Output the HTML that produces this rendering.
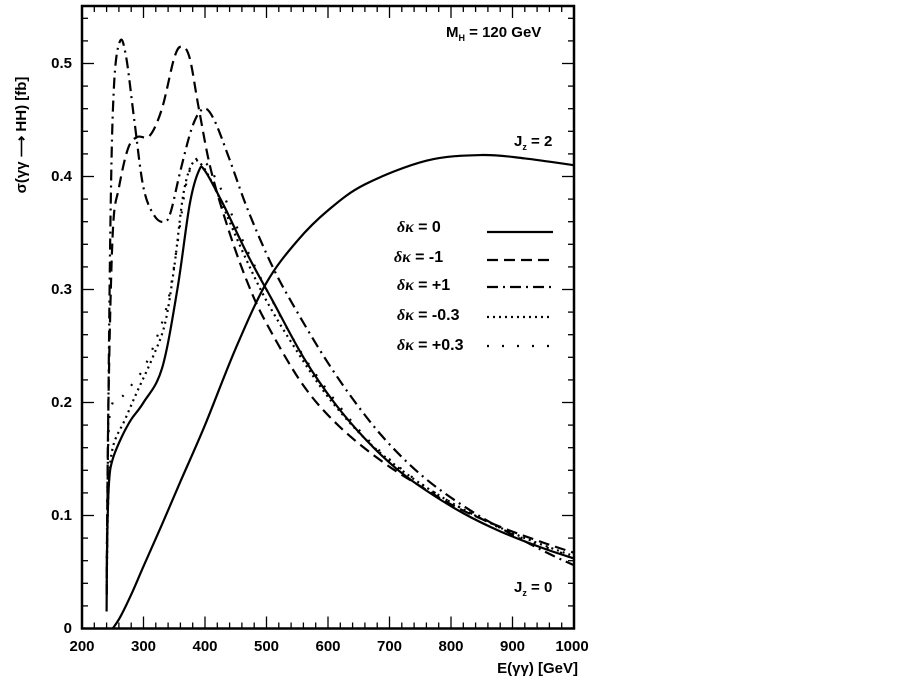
<!DOCTYPE html>
<html><head><meta charset="utf-8"><style>
html,body{margin:0;padding:0;background:#fff;}
svg{display:block;font-family:"Liberation Sans",Arial,sans-serif;}
</style></head><body>
<svg id="s" width="903" height="681" viewBox="0 0 903 681" xmlns="http://www.w3.org/2000/svg">
<g id="ticks" stroke="#000" stroke-width="1.3"></g>
<rect x="82" y="6" width="492" height="622.5" fill="none" stroke="#000" stroke-width="2.5"/>
<g id="curves" fill="none" stroke="#000" stroke-width="2.2"></g>
<g font-size="15" fill="#000" font-weight="bold" style="font-weight:600">
<text x="72" y="633" text-anchor="end">0</text>
<text x="72" y="520" text-anchor="end">0.1</text>
<text x="72" y="407" text-anchor="end">0.2</text>
<text x="72" y="294" text-anchor="end">0.3</text>
<text x="72" y="181" text-anchor="end">0.4</text>
<text x="72" y="68" text-anchor="end">0.5</text>
<g text-anchor="middle">
<text x="82" y="651">200</text><text x="143.5" y="651">300</text><text x="205" y="651">400</text><text x="266.5" y="651">500</text><text x="328" y="651">600</text><text x="389.5" y="651">700</text><text x="451" y="651">800</text><text x="512.5" y="651">900</text><text x="572" y="651">1000</text>
</g>
<text x="578" y="673" text-anchor="end">E(γγ) [GeV]</text>
<text transform="translate(26,135) rotate(-90)" text-anchor="middle">σ(γγ ⟶ HH) [fb]</text>
<text x="446" y="37">M<tspan font-size="9" dy="4">H</tspan><tspan dy="-4"> = 120 GeV</tspan></text>
<text x="514" y="146">J<tspan font-size="9" dy="4">z</tspan><tspan dy="-4"> = 2</tspan></text>
<text x="514" y="592">J<tspan font-size="9" dy="4">z</tspan><tspan dy="-4"> = 0</tspan></text>
<g font-size="16">
<text x="397" y="232"><tspan font-family="Liberation Serif" font-style="italic">δκ</tspan> = 0</text>
<text x="394" y="262"><tspan font-family="Liberation Serif" font-style="italic">δκ</tspan> = -1</text>
<text x="397" y="290"><tspan font-family="Liberation Serif" font-style="italic">δκ</tspan> = +1</text>
<text x="397" y="320"><tspan font-family="Liberation Serif" font-style="italic">δκ</tspan> = -0.3</text>
<text x="397" y="350"><tspan font-family="Liberation Serif" font-style="italic">δκ</tspan> = +0.3</text>
</g>
</g>
<g stroke="#000" stroke-width="2.2">
<line x1="487" y1="232" x2="553" y2="232"/>
<line x1="487" y1="260" x2="553" y2="260" stroke-dasharray="11,6"/>
<line x1="487" y1="287" x2="553" y2="287" stroke-dasharray="11,5,2,5"/>
<line x1="487" y1="317" x2="553" y2="317" stroke-dasharray="2,4"/>
<line x1="487" y1="346" x2="553" y2="346" stroke-dasharray="2,13"/>
</g>
</svg>
<script>
var X=e=>82+(e-200)*0.615, Y=s=>628.5-s*1130;
var t='';
for(var e=200;e<=1000;e+=20){var x=X(e),L=(e%100==0)?12:6;t+=`<line x1="${x}" y1="628.5" x2="${x}" y2="${628.5-L}"/><line x1="${x}" y1="6" x2="${x}" y2="${6+L}"/>`;}
for(var i=0;i<=27;i++){var s=i*0.02,y=Y(s),L=(i%5==0)?12:6;t+=`<line x1="82" y1="${y}" x2="${82+L}" y2="${y}"/><line x1="574" y1="${y}" x2="${574-L}" y2="${y}"/>`;}
document.getElementById('ticks').innerHTML=t;
function path(pts){var p=pts.map(a=>[X(a[0]),Y(a[1])]);var d='M'+p[0][0]+','+p[0][1];
for(var i=0;i<p.length-1;i++){var p0=p[i-1]||p[i],p1=p[i],p2=p[i+1],p3=p[i+2]||p2;
var c1=[p1[0]+(p2[0]-p0[0])/6,p1[1]+(p2[1]-p0[1])/6],c2=[p2[0]-(p3[0]-p1[0])/6,p2[1]-(p3[1]-p1[1])/6];
d+=`C${c1[0]},${c1[1]} ${c2[0]},${c2[1]} ${p2[0]},${p2[1]}`;}return d;}
var C=[
[[[240,0.015],[241,0.08],[244,0.13],[250,0.15],[265,0.17],[280,0.185],[300,0.2],[330,0.23],[355,0.3],[375,0.375],[390,0.405],[400,0.405],[430,0.375],[470,0.33],[510,0.29],[560,0.24],[610,0.2],[660,0.168],[710,0.142],[760,0.122],[820,0.102],[880,0.086],[950,0.071],[1000,0.062]],''],
[[[240,0.03],[243,0.2],[250,0.35],[260,0.39],[275,0.425],[290,0.435],[310,0.436],[330,0.46],[350,0.505],[362,0.515],[375,0.505],[390,0.46],[410,0.405],[440,0.35],[470,0.305],[500,0.27],[560,0.215],[620,0.178],[690,0.147],[750,0.126],[810,0.107],[880,0.09],[950,0.076],[1000,0.067]],'11,6'],
[[[240,0.03],[246,0.35],[252,0.48],[262,0.52],[272,0.505],[285,0.45],[300,0.39],[318,0.365],[335,0.36],[345,0.37],[360,0.405],[380,0.445],[398,0.46],[415,0.45],[440,0.415],[470,0.37],[510,0.32],[550,0.28],[600,0.235],[650,0.196],[700,0.163],[760,0.132],[830,0.105],[900,0.083],[960,0.066],[1000,0.056]],'11,5,2,5'],
[[[240,0.03],[243,0.12],[250,0.16],[270,0.185],[290,0.21],[315,0.24],[335,0.27],[350,0.32],[365,0.385],[380,0.412],[395,0.41],[420,0.385],[460,0.335],[500,0.29],[550,0.245],[600,0.205],[660,0.168],[720,0.14],[780,0.118],[850,0.097],[920,0.08],[1000,0.064]],'2,4'],
[[[240,0.05],[243,0.17],[250,0.2],[265,0.205],[280,0.215],[300,0.23],[320,0.255],[340,0.29],[355,0.34],[370,0.395],[385,0.415],[400,0.413],[425,0.39],[460,0.345],[500,0.3],[550,0.25],[600,0.21],[660,0.17],[720,0.141],[780,0.118],[850,0.097],[920,0.079],[1000,0.063]],'2,12'],
[[[250,0],[262,0.01],[280,0.03],[300,0.055],[330,0.092],[360,0.13],[400,0.18],[450,0.248],[500,0.306],[550,0.343],[600,0.37],[660,0.393],[760,0.414],[850,0.419],[920,0.416],[1000,0.41]],'']
];
var g='';C.forEach(c=>{g+=`<path d="${path(c[0])}"${c[1]?` stroke-dasharray="${c[1]}"`:''}/>`;});
document.getElementById('curves').innerHTML=g;
</script>
</body></html>
